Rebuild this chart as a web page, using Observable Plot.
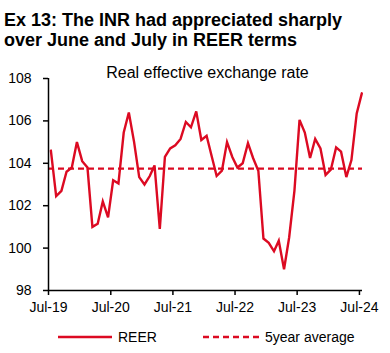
<!DOCTYPE html>
<html>
<head>
<meta charset="utf-8">
<script src="https://cdn.jsdelivr.net/npm/d3@7"></script>
<script src="https://cdn.jsdelivr.net/npm/@observablehq/plot@0.6"></script>
<style>
  html, body { margin: 0; padding: 0; background: #fff; }
  body { width: 390px; height: 353px; overflow: hidden; font-family: "Liberation Sans", Arial, sans-serif; }
  #title { font-weight: bold; font-size: 18px; line-height: 20.2px; color: #000; padding: 10px 0 0 4px; height: 52px; box-sizing: border-box; white-space: nowrap; }
  #legend { position: relative; height: 33px; font-size: 14px; color: #000; }
  .leg { position: absolute; top: 9px; display: flex; align-items: center; }
  .leg svg { margin-right: 6px; }
</style>
</head>
<body>
<div id="title">Ex 13: The INR had appreciated sharply<br>over June and July in REER terms</div>
<div id="chart"></div>
<div id="legend">
  <div class="leg" style="left:58px"><svg width="54" height="4"><line x1="0" y1="2" x2="54" y2="2" stroke="#dc0a22" stroke-width="2.4"/></svg><span>REER</span></div>
  <div class="leg" style="left:203px"><svg width="56" height="4"><line x1="0" y1="2" x2="56" y2="2" stroke="#dc0a22" stroke-width="2.4" stroke-dasharray="6,4"/></svg><span>5year average</span></div>
</div>
<script>
// Monthly REER values, Jul-19 .. Jul-24
const reer = [
  104.6, 102.45, 102.7, 103.6, 103.8, 105.0, 104.1, 103.8, 101.0, 101.15, 102.2, 101.45,
  103.2, 103.05, 105.45, 106.4, 105.0, 103.35, 103.0, 103.4, 103.9, 100.9, 104.3, 104.7,
  104.85, 105.15, 105.95, 105.7, 106.45, 105.1, 105.3, 104.3, 103.4, 103.65, 105.0, 104.3,
  103.8, 104.0, 104.95, 104.25, 103.65, 100.45, 100.25, 99.85, 100.35, 99.0, 100.5, 102.7,
  106.05, 105.45, 104.25, 105.15, 104.7, 103.45, 103.7, 104.75, 104.55, 103.35, 104.15, 106.35,
  107.3
];
const fiveYearAverage = 103.75;
const tickLabels = ["Jul-19", "Jul-20", "Jul-21", "Jul-22", "Jul-23", "Jul-24"];
const yTicks = [98, 100, 102, 104, 106, 108];
const subtitle = "Real effective exchange rate";

const red = "#dc0a22";
const data = reer.map((v, i) => ({date: new Date(Date.UTC(2019, 6 + i, 15)), value: v}));
const tickDates = tickLabels.map((_, i) => new Date(Date.UTC(2019 + i, 6, 1)));
const xStart = new Date(Date.UTC(2019, 6, 1));
const xEnd = new Date(Date.UTC(2024, 6, 19));

const chart = Plot.plot({
  width: 390,
  height: 268,
  marginLeft: 48,
  marginRight: 28,
  marginTop: 26,
  marginBottom: 30,
  style: {fontFamily: "'Liberation Sans', Arial, sans-serif", fontSize: "14px", color: "#000", background: "#fff"},
  x: {type: "utc", domain: [xStart, xEnd]},
  y: {domain: [98, 108]},
  marks: [
    Plot.ruleY([fiveYearAverage], {stroke: red, strokeWidth: 2.4, strokeDasharray: "6,4"}),
    Plot.line(data, {x: "date", y: "value", stroke: red, strokeWidth: 2.4, strokeLinejoin: "miter", strokeMiterlimit: 4}),
    Plot.ruleX([xStart], {stroke: "#000", strokeWidth: 1.5}),
    Plot.ruleY([98], {stroke: "#000", strokeWidth: 1.5}),
    Plot.axisY({ticks: yTicks, tickSize: 5, tickPadding: 12, stroke: "#000", strokeWidth: 1.5, fontSize: 14, label: null}),
    Plot.axisX({ticks: tickDates, tickFormat: (d, i) => tickLabels[i], tickSize: 5, tickPadding: 7, stroke: "#000", strokeWidth: 1.5, fontSize: 14, label: null}),
    Plot.text([subtitle], {frameAnchor: "top", lineAnchor: "bottom", dy: -1, dx: 2, fontSize: 16, fill: "#000"})
  ]
});
document.getElementById("chart").appendChild(chart);
</script>
</body>
</html>
